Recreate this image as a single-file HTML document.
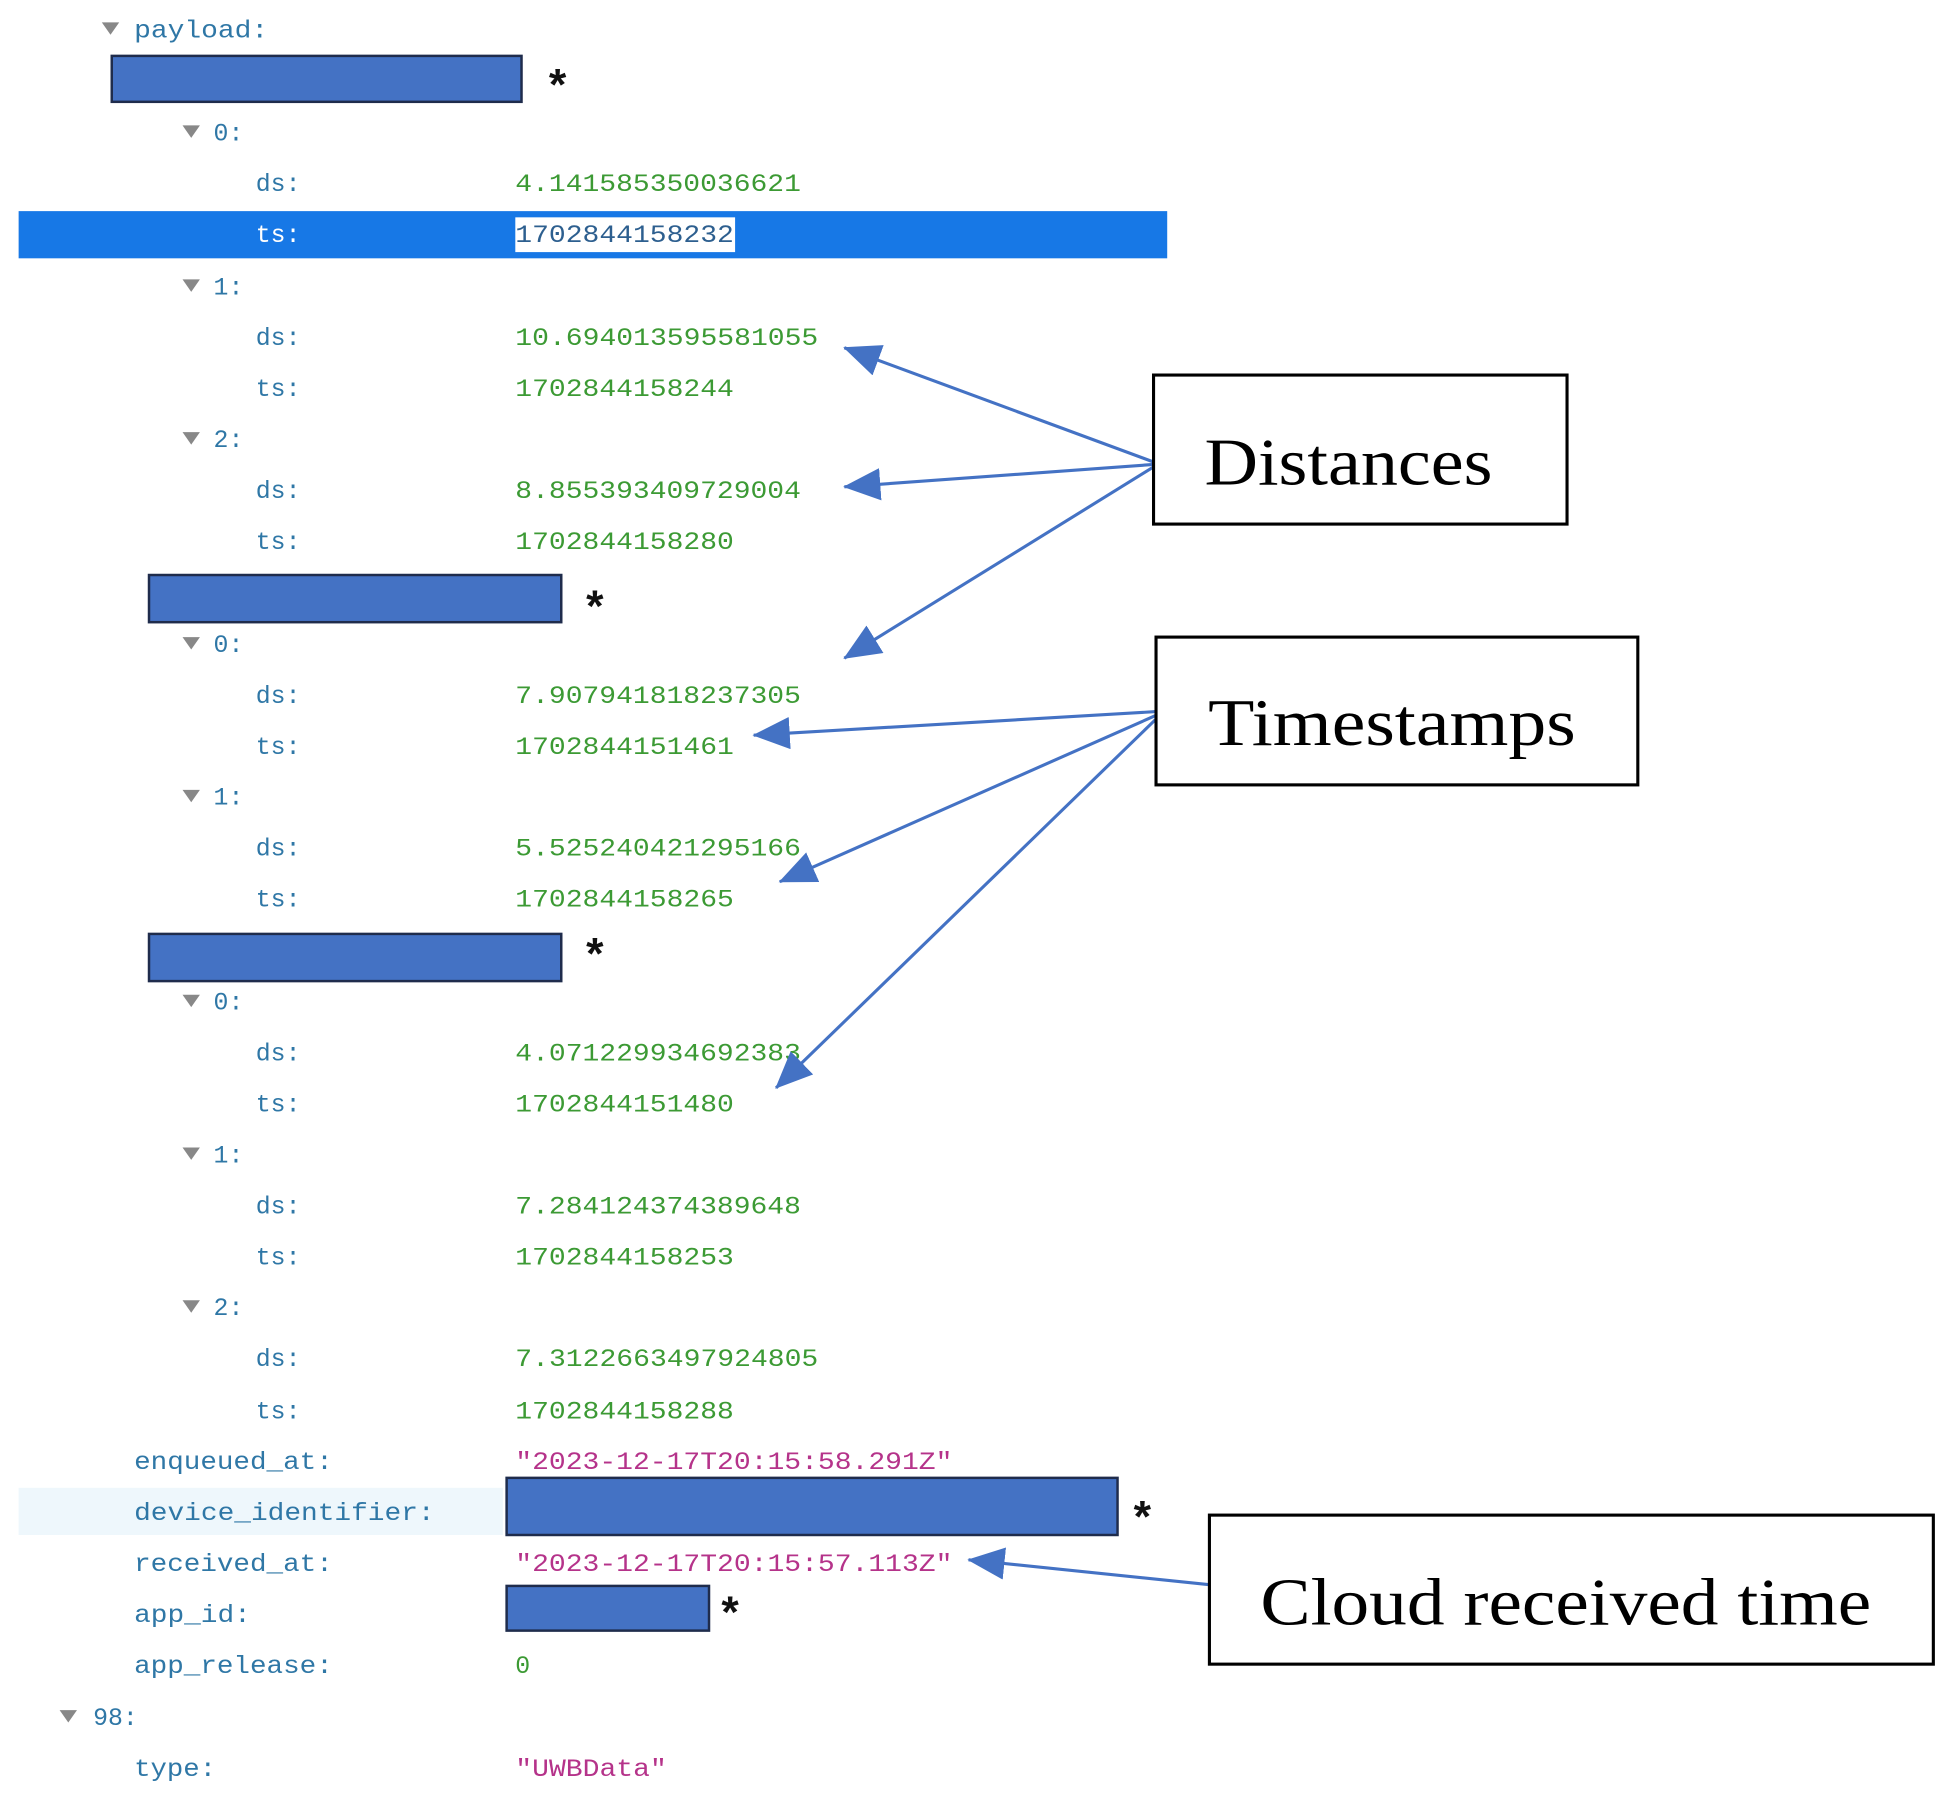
<!DOCTYPE html>
<html><head><meta charset="utf-8"><style>
html,body{margin:0;padding:0;background:#fff;}
svg{display:block;}
.k{font-family:"Liberation Mono",monospace;font-size:20px;fill:#2f77a6;}
.v{font-family:"Liberation Mono",monospace;font-size:20px;fill:#3c9a34;}
.s{font-family:"Liberation Mono",monospace;font-size:20px;fill:#b5338a;}
.a{font-family:"Liberation Sans",sans-serif;font-size:36px;font-weight:bold;fill:#111;}
.l{font-family:"Liberation Serif",serif;font-size:54px;fill:#000;}
.r{fill:#4472c4;stroke:#1f2c4c;stroke-width:2;}
</style></head><body>
<svg width="1947" height="1802" viewBox="0 0 1568 1451" preserveAspectRatio="none" xmlns="http://www.w3.org/2000/svg">
<defs>
<marker id="h" viewBox="0 0 30 26" refX="29" refY="13" markerWidth="30" markerHeight="26" orient="auto" markerUnits="userSpaceOnUse"><path d="M0,0 L30,13 L0,26 z" fill="#4472c4"/></marker></defs>
<rect x="15" y="170" width="925" height="38" fill="#1778e6"/>
<rect x="415" y="175" width="177" height="28" fill="#fff"/>
<rect x="15" y="1198" width="390" height="38" fill="#eef7fc"/>
<g fill="#888">
<path d="M82,18 L96,18 L89,28z"/>
<path d="M147,101 L161,101 L154,111z"/><path d="M147,225 L161,225 L154,235z"/><path d="M147,348 L161,348 L154,358z"/>
<path d="M147,513 L161,513 L154,523z"/><path d="M147,636 L161,636 L154,646z"/>
<path d="M147,801 L161,801 L154,811z"/><path d="M147,924 L161,924 L154,934z"/><path d="M147,1047 L161,1047 L154,1057z"/>
<path d="M48,1377 L62,1377 L55,1387z"/>
</g>
<text class="k" x="108" y="30" textLength="108" lengthAdjust="spacingAndGlyphs">payload:</text>
<rect class="r" x="90" y="45" width="330" height="37"/>
<text class="a" x="442" y="80">*</text>
<g class="k">
<text x="172" y="113">0:</text>
<text x="206" y="154">ds:</text>
<text x="206" y="195" style="fill:#fff">ts:</text>
<text x="172" y="237">1:</text><text x="206" y="278">ds:</text><text x="206" y="319">ts:</text>
<text x="172" y="360">2:</text><text x="206" y="401">ds:</text><text x="206" y="442">ts:</text>
<text x="172" y="525">0:</text><text x="206" y="566">ds:</text><text x="206" y="607">ts:</text>
<text x="172" y="648">1:</text><text x="206" y="689">ds:</text><text x="206" y="730">ts:</text>
<text x="172" y="813">0:</text><text x="206" y="854">ds:</text><text x="206" y="895">ts:</text>
<text x="172" y="936">1:</text><text x="206" y="977">ds:</text><text x="206" y="1018">ts:</text>
<text x="172" y="1059">2:</text><text x="206" y="1100">ds:</text><text x="206" y="1142">ts:</text>
<text x="108" y="1183" textLength="160" lengthAdjust="spacingAndGlyphs">enqueued_at:</text>
<text x="108" y="1224" textLength="242" lengthAdjust="spacingAndGlyphs">device_identifier:</text>
<text x="108" y="1265" textLength="160" lengthAdjust="spacingAndGlyphs">received_at:</text>
<text x="108" y="1306" textLength="94" lengthAdjust="spacingAndGlyphs">app_id:</text>
<text x="108" y="1347" textLength="160" lengthAdjust="spacingAndGlyphs">app_release:</text>
<text x="75" y="1389">98:</text>
<text x="108" y="1430" textLength="66" lengthAdjust="spacingAndGlyphs">type:</text>
</g>
<g class="v">
<text x="415" y="154" textLength="230" lengthAdjust="spacingAndGlyphs">4.141585350036621</text>
<text x="415" y="278" textLength="244" lengthAdjust="spacingAndGlyphs">10.694013595581055</text>
<text x="415" y="319" textLength="176" lengthAdjust="spacingAndGlyphs">1702844158244</text>
<text x="415" y="401" textLength="230" lengthAdjust="spacingAndGlyphs">8.855393409729004</text>
<text x="415" y="442" textLength="176" lengthAdjust="spacingAndGlyphs">1702844158280</text>
<text x="415" y="566" textLength="230" lengthAdjust="spacingAndGlyphs">7.907941818237305</text>
<text x="415" y="607" textLength="176" lengthAdjust="spacingAndGlyphs">1702844151461</text>
<text x="415" y="689" textLength="230" lengthAdjust="spacingAndGlyphs">5.525240421295166</text>
<text x="415" y="730" textLength="176" lengthAdjust="spacingAndGlyphs">1702844158265</text>
<text x="415" y="854" textLength="230" lengthAdjust="spacingAndGlyphs">4.071229934692383</text>
<text x="415" y="895" textLength="176" lengthAdjust="spacingAndGlyphs">1702844151480</text>
<text x="415" y="977" textLength="230" lengthAdjust="spacingAndGlyphs">7.284124374389648</text>
<text x="415" y="1018" textLength="176" lengthAdjust="spacingAndGlyphs">1702844158253</text>
<text x="415" y="1100" textLength="244" lengthAdjust="spacingAndGlyphs">7.3122663497924805</text>
<text x="415" y="1142" textLength="176" lengthAdjust="spacingAndGlyphs">1702844158288</text>
<text x="415" y="1347">0</text>
</g>
<text class="v" x="415" y="195" textLength="176" lengthAdjust="spacingAndGlyphs" style="fill:#2d5f8f">1702844158232</text>
<g class="s">
<text x="415" y="1183" textLength="352" lengthAdjust="spacingAndGlyphs">"2023-12-17T20:15:58.291Z"</text>
<text x="415" y="1265" textLength="352" lengthAdjust="spacingAndGlyphs">"2023-12-17T20:15:57.113Z"</text>
<text x="415" y="1430" textLength="122" lengthAdjust="spacingAndGlyphs">"UWBData"</text>
</g>
<rect class="r" x="120" y="463" width="332" height="38"/>
<text class="a" x="472" y="500">*</text>
<rect class="r" x="120" y="752" width="332" height="38"/>
<text class="a" x="472" y="780">*</text>
<rect class="r" x="408" y="1190" width="492" height="46"/>
<text class="a" x="913" y="1233">*</text>
<rect class="r" x="408" y="1277" width="163" height="36"/>
<text class="a" x="581" y="1310">*</text>
<g stroke="#4472c4" stroke-width="2.5" fill="none" marker-end="url(#h)">
<line x1="929" y1="372" x2="680" y2="280"/>
<line x1="929" y1="374" x2="680" y2="392"/>
<line x1="929" y1="376" x2="680" y2="530"/>
<line x1="931" y1="573" x2="607" y2="592"/>
<line x1="931" y1="576" x2="628" y2="710"/>
<line x1="931" y1="579" x2="625" y2="876"/>
<line x1="974" y1="1276" x2="780" y2="1256"/>
</g>
<rect x="929" y="302" width="333" height="120" fill="#fff" stroke="#000" stroke-width="2.5"/>
<text class="l" x="970" y="390" textLength="232" lengthAdjust="spacingAndGlyphs">Distances</text>
<rect x="931" y="513" width="388" height="119" fill="#fff" stroke="#000" stroke-width="2.5"/>
<text class="l" x="973" y="600" textLength="296" lengthAdjust="spacingAndGlyphs">Timestamps</text>
<rect x="974" y="1220" width="583" height="120" fill="#fff" stroke="#000" stroke-width="2.5"/>
<text class="l" x="1015" y="1308" textLength="492" lengthAdjust="spacingAndGlyphs">Cloud received time</text>
</svg>
</body></html>
